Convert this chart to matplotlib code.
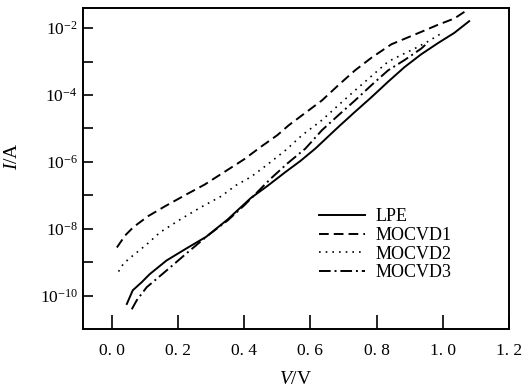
import numpy as np
import matplotlib
matplotlib.use('Agg')
import matplotlib.pyplot as plt

# ── 폰트: 세리프 (Times 계열) ─────────────────────────────────────────────
plt.rcParams['font.family'] = ['Liberation Serif', 'DejaVu Serif']
plt.rcParams['mathtext.fontset'] = 'custom'
plt.rcParams['mathtext.rm'] = 'Liberation Serif'
plt.rcParams['mathtext.it'] = 'Liberation Serif:italic'

# ── 데이터 (그림에서 읽은 값, log10(I/A)) ─────────────────────────────────
v_lpe = [0.045, 0.063, 0.09, 0.114, 0.165, 0.225, 0.285, 0.35, 0.42, 0.47,
         0.525, 0.57, 0.615, 0.685, 0.735, 0.785, 0.835, 0.885, 0.935, 0.985,
         1.035, 1.08]
logi_lpe = [-10.25, -9.84, -9.6, -9.36, -8.95, -8.59, -8.24, -7.72, -7.08, -6.72,
            -6.3, -5.97, -5.6, -4.95, -4.5, -4.06, -3.6, -3.16, -2.78, -2.45,
            -2.14, -1.79]

v_m1 = [0.015, 0.04, 0.065, 0.11, 0.16, 0.22, 0.28, 0.34, 0.40, 0.45,
        0.50, 0.535, 0.585, 0.635, 0.685, 0.735, 0.785, 0.845, 0.935, 0.985,
        1.035, 1.075]
logi_m1 = [-8.56, -8.2, -7.95, -7.62, -7.33, -7.0, -6.68, -6.3, -5.92, -5.55,
           -5.2, -4.9, -4.53, -4.16, -3.7, -3.26, -2.88, -2.48, -2.11, -1.9,
           -1.71, -1.45]

v_m2 = [0.02, 0.035, 0.06, 0.105, 0.145, 0.21, 0.27, 0.33, 0.375, 0.42,
        0.47, 0.525, 0.575, 0.635, 0.685, 0.735, 0.785, 0.835, 0.875, 0.915,
        0.955, 0.995]
logi_m2 = [-9.28, -9.04, -8.83, -8.47, -8.11, -7.7, -7.35, -7.03, -6.7, -6.45,
           -6.08, -5.65, -5.2, -4.75, -4.3, -3.86, -3.43, -3.0, -2.8, -2.61,
           -2.4, -2.16]

v_m3 = [0.06, 0.075, 0.105, 0.165, 0.225, 0.29, 0.35, 0.40, 0.44, 0.48,
        0.53, 0.585, 0.635, 0.685, 0.735, 0.785, 0.835, 0.885, 0.935, 0.955]
logi_m3 = [-10.41, -10.14, -9.75, -9.25, -8.74, -8.2, -7.75, -7.3, -6.9, -6.5,
           -6.05, -5.6, -5.05, -4.6, -4.16, -3.7, -3.26, -2.95, -2.61, -2.43]

labels = ['LPE', 'MOCVD1', 'MOCVD2', 'MOCVD3']
x_ticks = [0.0, 0.2, 0.4, 0.6, 0.8, 1.0, 1.2]
x_ticklabels = ['0. 0', '0. 2', '0. 4', '0. 6', '0. 8', '1. 0', '1. 2']
y_major_exp = [-2, -4, -6, -8, -10]
y_minor_exp = [-3, -5, -7, -9]

# ── 그림 ──────────────────────────────────────────────────────────────────
fig = plt.figure(figsize=(5.23, 3.88), dpi=100, facecolor='white')
ax = fig.add_axes([0.159, 0.152, 0.814, 0.827])

lw = 1.4
ax.plot(v_lpe, 10.0 ** np.array(logi_lpe), color='black', lw=lw, label=labels[0])
ax.plot(v_m1, 10.0 ** np.array(logi_m1), color='black', lw=lw,
        dashes=(5, 2.6), label=labels[1])
ax.plot(v_m2, 10.0 ** np.array(logi_m2), color='black', lw=1.2,
        dashes=(1, 3), label=labels[2])
ax.plot(v_m3, 10.0 ** np.array(logi_m3), color='black', lw=lw,
        dashes=(6, 2, 1, 2), label=labels[3])

ax.set_yscale('log')
ax.set_xlim(-0.087, 1.2)
ax.set_ylim(10 ** -11.0, 10 ** -1.4)

ax.set_xticks(x_ticks)
ax.set_xticklabels(x_ticklabels)
ax.set_yticks([10.0 ** e for e in y_major_exp])
ax.set_yticklabels([rf'$10^{{{e}}}$' for e in y_major_exp])
ax.set_yticks([10.0 ** e for e in y_minor_exp], minor=True)
ax.yaxis.set_minor_formatter(matplotlib.ticker.NullFormatter())

ax.tick_params(axis='x', direction='in', length=10, width=1.2,
               labelsize=12.5, pad=10, top=False)
ax.tick_params(axis='y', which='both', direction='in', length=7, width=1.2,
               labelsize=12.5, pad=4, right=False)
for s in ax.spines.values():
    s.set_linewidth(1.4)

ax.set_xlabel(r'$V$/V', fontsize=14, labelpad=9)
ax.set_ylabel(r'$I$/A', fontsize=14)
ax.yaxis.set_label_coords(-0.145, 0.54)

ax.legend(loc='upper left', bbox_to_anchor=(0.555, 0.377), frameon=False,
          fontsize=13, handlelength=2.5, handletextpad=0.6, labelspacing=0.1,
          borderpad=0, borderaxespad=0)

fig.savefig('out.png', dpi=100, facecolor='white')
